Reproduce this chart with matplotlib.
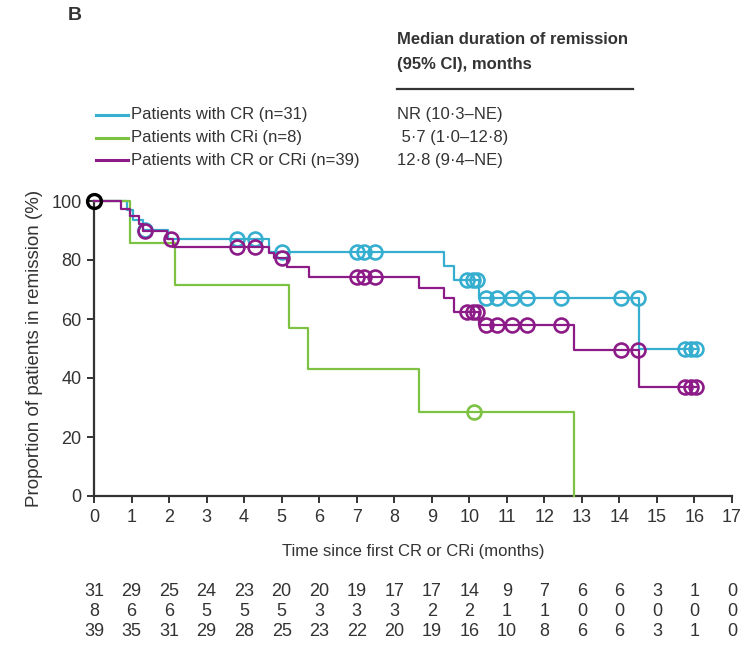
import matplotlib.pyplot as plt
import numpy as np

plt.rcParams['font.family'] = ['Liberation Sans', 'DejaVu Sans']

# step curves: time of each step (months) and survival after it (%)
cr_times = [0, 0.88, 1.05, 1.3, 1.97, 4.67, 9.33, 9.6, 10.27, 14.52]
cr_surv = [100, 96.8, 93.5, 90.3, 87.1, 82.8, 77.8, 73.2, 67.0, 50.0]
cr_censor = [1.35, 3.8, 4.3, 5.0, 7.0, 7.2, 7.5, 9.95, 10.1, 10.2,
             10.45, 10.75, 11.15, 11.55, 12.45, 14.05, 14.5, 15.75, 15.9, 16.05]

cri_times = [0, 0.96, 2.15, 5.19, 5.69, 8.67, 12.79]
cri_surv = [100, 85.7, 71.4, 57.1, 42.9, 28.6, 0]
cri_censor = [10.13]

all_times = [0, 0.72, 0.95, 1.2, 1.3, 1.95, 2.1, 4.67, 4.8, 5.15, 5.73,
             8.67, 9.33, 9.6, 10.27, 12.79, 14.52]
all_surv = [100, 97.4, 94.9, 92.3, 89.7, 87.0, 84.3, 82.3, 80.6, 77.6, 74.3,
            70.5, 67.0, 62.5, 58.0, 49.5, 37.0]
all_censor = [1.35, 2.05, 3.8, 4.3, 5.0, 7.0, 7.2, 7.5, 9.95, 10.1, 10.2,
              10.45, 10.75, 11.15, 11.55, 12.45, 14.05, 14.5, 15.75, 15.9, 16.05]

labels = ['Patients with CR (n=31)', 'Patients with CRi (n=8)',
          'Patients with CR or CRi (n=39)']
medians = ['NR (10·3–NE)', ' 5·7 (1·0–12·8)', '12·8 (9·4–NE)']
colors = ['#35aed0', '#7dc242', '#8c1b88']

risk_ticks = list(range(18))
at_risk = [
    [31, 29, 25, 24, 23, 20, 20, 19, 17, 17, 14, 9, 7, 6, 6, 3, 1, 0],
    [8, 6, 6, 5, 5, 5, 3, 3, 3, 2, 2, 1, 1, 0, 0, 0, 0, 0],
    [39, 35, 31, 29, 28, 25, 23, 22, 20, 19, 16, 10, 8, 6, 6, 3, 1, 0],
]

W, H = 741, 658
fig = plt.figure(figsize=(W / 100, H / 100), dpi=100)
ax = fig.add_axes([94 / W, 1 - 496 / H, (732 - 94) / W, (496 - 201) / H])

series = [(cr_times, cr_surv, cr_censor), (cri_times, cri_surv, cri_censor),
          (all_times, all_surv, all_censor)]
order = [1, 2, 0]
for i in order:
    t, s, c = series[i]
    # extend the last level out to the last censored patient
    end = max(c[-1], t[-1])
    ax.step(t + [end], s + [s[-1]], where='post', color=colors[i], lw=1.6,
            clip_on=False, zorder=2 + i)
    cy = [s[np.searchsorted(t, x, side='right') - 1] for x in c]
    ax.plot(c, cy, ls='none', marker='o', ms=10, mfc='none', mec=colors[i],
            mew=1.9, clip_on=False, zorder=3 + i)
ax.plot([0], [100], ls='none', marker='o', ms=10, mfc='none', mec='black',
        mew=2.4, clip_on=False, zorder=10)

ax.set_xlim(0, 17)
ax.set_ylim(0, 100)
ax.set_xticks(risk_ticks)
ax.set_yticks([0, 20, 40, 60, 80, 100])
for side in ['top', 'right']:
    ax.spines[side].set_visible(False)
for side in ['left', 'bottom']:
    ax.spines[side].set_color('#333333')
    ax.spines[side].set_linewidth(1.6)
ax.tick_params(direction='out', length=5, width=1.4, color='#333333',
               labelsize=13, labelcolor='#333333', pad=4)
ax.set_xlabel('Time since first CR or CRi (months)', fontsize=12,
              color='#333333', labelpad=13)
ax.set_ylabel('Proportion of patients in remission (%)', fontsize=13.5,
              color='#333333', labelpad=6)

# number at risk
for r, row in enumerate(at_risk):
    for x, n in zip(risk_ticks, row):
        xd = ax.transData.transform((x, 0))[0]
        fig.text(xd / W, 1 - (592 + 20 * r) / H, str(n), ha='center',
                 va='center', fontsize=13, color='#333333')

# header and legend
fig.text(68 / W, 1 - 16 / H, 'B', fontsize=14, fontweight='bold',
         color='#333333', va='center')
fig.text(397 / W, 1 - 40 / H, 'Median duration of remission', fontsize=12,
         fontweight='bold', color='#333333', va='center')
fig.text(397 / W, 1 - 65 / H, '(95% CI), months', fontsize=12,
         fontweight='bold', color='#333333', va='center')
fig.add_artist(plt.Line2D([397 / W, 633 / W], [1 - 89 / H, 1 - 89 / H],
                          color='#333333', lw=1.6))
for i in range(3):
    y = 1 - (115 + 22.5 * i) / H
    fig.add_artist(plt.Line2D([96 / W, 128 / W], [y, y], color=colors[i], lw=2.2))
    fig.text(131 / W, y, labels[i], fontsize=12, color='#333333', va='center')
    fig.text(397 / W, y, medians[i], fontsize=12, color='#333333', va='center')

fig.savefig('out.png', dpi=100)
